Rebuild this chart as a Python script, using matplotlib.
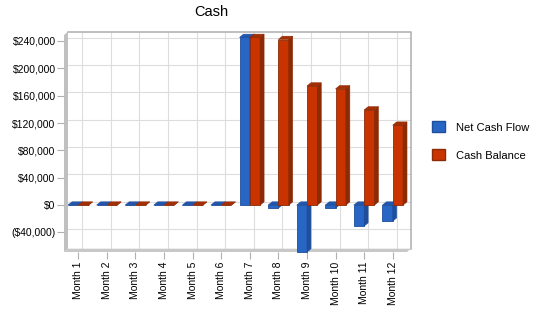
import numpy as np
import matplotlib
matplotlib.use("Agg")
import matplotlib.pyplot as plt
from matplotlib.patches import Polygon, Patch
from matplotlib.ticker import FuncFormatter

plt.rcParams['font.family'] = ['Liberation Sans', 'DejaVu Sans']

months = ["Month %d" % i for i in range(1, 13)]
net_cash_flow = [0, 0, 0, 0, 0, 0, 245000, -4400, -68600, -4400, -30700, -23400]
cash_balance = [0, 0, 0, 0, 0, 0, 245000, 242000, 174000, 169800, 139000, 116800]
y_ticks = [-40000, 0, 40000, 80000, 120000, 160000, 200000, 240000]

series = [
    ("Net Cash Flow", net_cash_flow, "#2866c6", "#1f4e9c", "#2257ad"),
    ("Cash Balance", cash_balance, "#c83300", "#8c2a06", "#a52f04"),
]

fig = plt.figure(figsize=(5.5, 3.18), dpi=100)
# front plane of the fake 3d box
ax = fig.add_axes([64 / 550, 1 - 252 / 318, 343 / 550, 217 / 318])

ymin, ymax = -68500, 248600
ax.set_xlim(-0.5, 11.5)
ax.set_ylim(ymin, ymax)
for s in ax.spines.values():
    s.set_visible(False)

# depth of the 3d effect, in data units
dx = 0.14
dy = (ymax - ymin) / 217 * 3.3
w = 0.36
x0w, x1w = -0.5, 11.5

# walls
ax.add_patch(Polygon([(x0w, ymin), (x0w, ymax), (x0w + dx, ymax + dy), (x0w + dx, ymin + dy)],
                     closed=True, facecolor="#c0c0c0", edgecolor="none", clip_on=False, zorder=1))
ax.add_patch(Polygon([(x0w, ymin), (x1w, ymin), (x1w + dx, ymin + dy), (x0w + dx, ymin + dy)],
                     closed=True, facecolor="#c8c8c8", edgecolor="none", clip_on=False, zorder=1))
ax.plot([x0w + dx, x1w + dx, x1w + dx], [ymax + dy, ymax + dy, ymin + dy],
        color="#b4b4b4", lw=1.2, clip_on=False, zorder=1)

# back wall grid
for t in y_ticks:
    ax.plot([x0w + dx, x1w + dx], [t + dy, t + dy], color="#dddddd", lw=0.8, zorder=0, clip_on=False)
for i in range(len(months)):
    ax.plot([i + dx, i + dx], [ymin + dy, ymax + dy], color="#dddddd", lw=0.8, zorder=0, clip_on=False)

x = np.arange(len(months))
for k, (name, vals, front, side, top) in enumerate(series):
    lefts = x - w + k * w
    ax.bar(lefts, vals, width=w, align="edge", color=front, edgecolor=side,
           linewidth=0.6, zorder=2 + k, clip_on=False)
    for x0, v in zip(lefts, vals):
        x1 = x0 + w
        lo, hi = min(v, 0), max(v, 0)
        ax.add_patch(Polygon([(x1, lo), (x1, hi), (x1 + dx, hi + dy), (x1 + dx, lo + dy)],
                             closed=True, facecolor=side, edgecolor=side, lw=0.4,
                             zorder=2 + k, clip_on=False))
        ax.add_patch(Polygon([(x0, hi), (x0 + dx, hi + dy), (x1 + dx, hi + dy), (x1, hi)],
                             closed=True, facecolor=top, edgecolor=side, lw=0.4,
                             zorder=2 + k, clip_on=False))

def money(v, pos):
    if v < 0:
        return "(${:,.0f})".format(-v)
    return "${:,.0f}".format(v)

ax.set_yticks(y_ticks)
ax.yaxis.set_major_formatter(FuncFormatter(money))
ax.set_xticks(x)
ax.set_xticklabels(months, rotation=90)
ax.tick_params(axis="both", labelsize=7.5, labelcolor="#000000", length=5, width=0.8,
               color="#b0b0b0", pad=2)
ax.tick_params(axis="y", pad=1)

fig.text(211 / 550, 1 - 12 / 318, "Cash", ha="center", va="center", fontsize=10.5)

handles = [Patch(facecolor=s[2], edgecolor=s[3], label=s[0]) for s in series]
fig.legend(handles=handles, loc="center left", bbox_to_anchor=(422 / 550, 1 - 141 / 318),
           frameon=False, fontsize=8, handlelength=1.15, handleheight=1.15,
           labelspacing=1.5, handletextpad=1.0)

fig.savefig("out.png", dpi=100)
